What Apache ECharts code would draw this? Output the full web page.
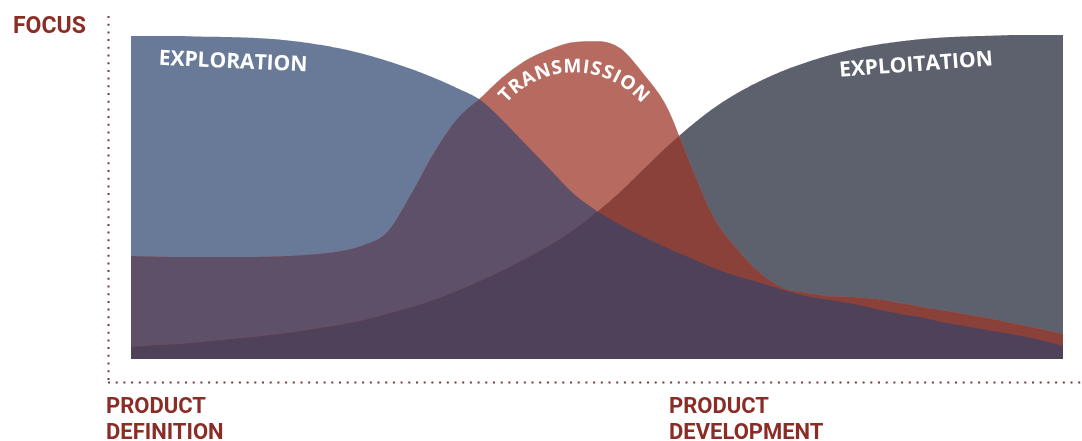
<!DOCTYPE html>
<html>
<head>
<meta charset="utf-8">
<title>Focus</title>
<script src="https://cdn.jsdelivr.net/npm/echarts@6/dist/echarts.min.js"></script>
<style>
  html, body { margin: 0; padding: 0; background: #fff; }
  #chart { width: 1082px; height: 441px; }
</style>
</head>
<body>
<div id="chart"></div>
<script>
// x position along the product timeline (0 = definition, 100 = end)
const xs = [0, 2.5, 5, 7.5, 10, 12.5, 15, 17.5, 20, 22.5, 25, 27.5, 30, 32.5, 35, 37.5, 40,
  42.5, 45, 47.5, 50, 52.5, 55, 57.5, 60, 62.5, 65, 67.5, 70, 72.5, 75, 77.5, 80,
  82.5, 85, 87.5, 90, 92.5, 95, 97.5, 100];

// focus level of each activity
const exploration = [99.7, 99.7, 99.7, 99.5, 99.4, 99.2, 98.8, 98.1, 97.1, 95.8, 94.1, 92.0, 89.6,
  86.8, 83.6, 79.9, 73.3, 65.8, 58.4, 51.0, 45.7, 41.4, 37.7, 34.3, 31.2, 28.1, 25.6, 23.5,
  21.3, 19.4, 18.2, 17.0, 15.4, 13.9, 12.7, 11.1, 9.9, 8.6, 7.4, 5.9, 4.0];
const transmission = [31.8, 31.6, 31.5, 31.5, 31.5, 31.5, 31.6, 31.9, 32.4, 33.3, 35.2, 39.2, 50.6,
  63.6, 74.1, 80.6, 87.3, 92.4, 95.7, 97.8, 98.1, 95.9, 88.0, 77.8, 60.2, 43.8, 34.0, 26.5,
  21.9, 20.4, 19.4, 19.1, 18.5, 17.3, 16.0, 14.8, 13.6, 12.3, 10.8, 9.3, 7.7];
const exploitation = [3.7, 4.2, 4.6, 5.2, 5.9, 6.6, 7.4, 8.3, 9.4, 10.6, 12.0, 13.9, 15.9, 18.2,
  21.0, 24.1, 27.5, 31.2, 35.2, 39.8, 45.4, 51.6, 58.6, 65.5, 71.8, 77.4, 82.0, 85.8, 89.0,
  91.6, 93.8, 95.6, 97.0, 98.0, 98.8, 99.3, 99.6, 99.8, 100, 100, 100];

const FONT = 'Roboto, "Liberation Sans", sans-serif';
const INNER = '"Open Sans", "DejaVu Sans", sans-serif';
const RED = '#8b2d27';
const DOTS = '#7a3b3e';

// monotone cubic (Fritsch-Carlson) so the curves never overshoot
function monotone(ys, steps) {
  const n = ys.length, d = [], m = [];
  for (let i = 0; i < n - 1; i++) d.push(ys[i + 1] - ys[i]);
  m[0] = d[0]; m[n - 1] = d[n - 2];
  for (let i = 1; i < n - 1; i++) m[i] = d[i - 1] * d[i] <= 0 ? 0 : (d[i - 1] + d[i]) / 2;
  for (let i = 0; i < n - 1; i++) {
    if (d[i] === 0) { m[i] = 0; m[i + 1] = 0; continue; }
    const a = m[i] / d[i], b = m[i + 1] / d[i], s = a * a + b * b;
    if (s > 9) { const t = 3 / Math.sqrt(s); m[i] = t * a * d[i]; m[i + 1] = t * b * d[i]; }
  }
  const out = [];
  for (let i = 0; i < n - 1; i++) {
    for (let k = 0; k < steps; k++) {
      const t = k / steps, t2 = t * t, t3 = t2 * t;
      out.push((2 * t3 - 3 * t2 + 1) * ys[i] + (t3 - 2 * t2 + t) * m[i] +
        (-2 * t3 + 3 * t2) * ys[i + 1] + (t3 - t2) * m[i + 1]);
    }
  }
  out.push(ys[n - 1]);
  return out;
}
function denseX(steps) {
  const out = [];
  for (let i = 0; i < xs.length - 1; i++)
    for (let k = 0; k < steps; k++) out.push(xs[i] + (xs[i + 1] - xs[i]) * k / steps);
  out.push(xs[xs.length - 1]);
  return out;
}

function renderLayers(params, api) {
  if (params.dataIndex !== 0) return;
  const steps = 16;
  const dx = denseX(steps);
  const e = monotone(exploration, steps);
  const t = monotone(transmission, steps);
  const x = monotone(exploitation, steps);
  // each overlap gets its own flat colour, painted from the top envelope down
  const layers = [
    [[e], '#687a98'],
    [[x], '#5d616e'],
    [[t], '#b76a5f'],
    [[e, t], '#5e5069'],
    [[t, x], '#8a413a'],
    [[e, t, x], '#4f415a']
  ];
  const children = layers.map(([curves, color]) => {
    const pts = dx.map((v, i) => api.coord([v, Math.min(...curves.map(c => c[i]))]));
    pts.push(api.coord([xs[xs.length - 1], 0]));
    pts.push(api.coord([xs[0], 0]));
    return { type: 'polygon', shape: { points: pts }, style: { fill: color } };
  });
  return { type: 'group', children: children };
}

// letters of TRANSMISSION bent along the top of its hump
const arcCx = 574, arcCy = 162, arcR = 95;
const ctx = document.createElement('canvas').getContext('2d');
const arcFont = 'bold 19px ' + INNER;
ctx.font = arcFont;
const letters = 'TRANSMISSION'.split('');
const widths = letters.map(c => ctx.measureText(c).width);
const gap = 1.6;
const total = widths.reduce((a, b) => a + b, 0) + gap * (letters.length - 1);
let pos = -total / 2;
const arcText = letters.map((c, i) => {
  const mid = pos + widths[i] / 2;
  pos += widths[i] + gap;
  const phi = mid / arcR;
  return {
    type: 'text', z: 100,
    x: arcCx + arcR * Math.sin(phi),
    y: arcCy - arcR * Math.cos(phi),
    rotation: -phi,
    style: { text: c, x: 0, y: 0, align: 'center', verticalAlign: 'middle', font: arcFont, fill: '#fff' }
  };
});

const chart = echarts.init(document.getElementById('chart'));
chart.setOption({
  animation: false,
  grid: { left: 131, right: 19, top: 35, bottom: 82 },
  xAxis: { type: 'value', min: 0, max: 100, show: false },
  yAxis: { type: 'value', min: 0, max: 100, show: false },
  series: [{
    name: 'Focus',
    type: 'custom',
    silent: true,
    renderItem: renderLayers,
    data: xs.map((v, i) => [v, exploration[i], transmission[i], exploitation[i]])
  }],
  graphic: [
    { type: 'line', shape: { x1: 108.5, y1: 16, x2: 108.5, y2: 382 },
      style: { stroke: DOTS, lineWidth: 2, lineDash: [2, 5.7] } },
    { type: 'line', shape: { x1: 108, y1: 382.5, x2: 1082, y2: 382.5 },
      style: { stroke: DOTS, lineWidth: 2, lineDash: [2, 5.7] } },
    { type: 'text', x: 13, y: 16,
      style: { text: 'FOCUS', font: 'bold 23px ' + FONT, fill: RED, verticalAlign: 'top' } },
    { type: 'text', x: 106, y: 394,
      style: { text: 'PRODUCT\nDEFINITION', font: 'bold 22px ' + FONT, lineHeight: 26, fill: RED, verticalAlign: 'top' } },
    { type: 'text', x: 669, y: 394,
      style: { text: 'PRODUCT\nDEVELOPMENT', font: 'bold 22px ' + FONT, lineHeight: 26, fill: RED, verticalAlign: 'top' } },
    { type: 'text', x: 233, y: 62, rotation: -0.045, z: 100,
      style: { text: 'EXPLORATION', font: 'bold 21px ' + INNER, fill: '#fff', align: 'center', verticalAlign: 'middle' } },
    { type: 'text', x: 916, y: 65, rotation: 0.075, z: 100,
      style: { text: 'EXPLOITATION', font: 'bold 21px ' + INNER, fill: '#fff', align: 'center', verticalAlign: 'middle' } }
  ].concat(arcText)
});
</script>
</body>
</html>
